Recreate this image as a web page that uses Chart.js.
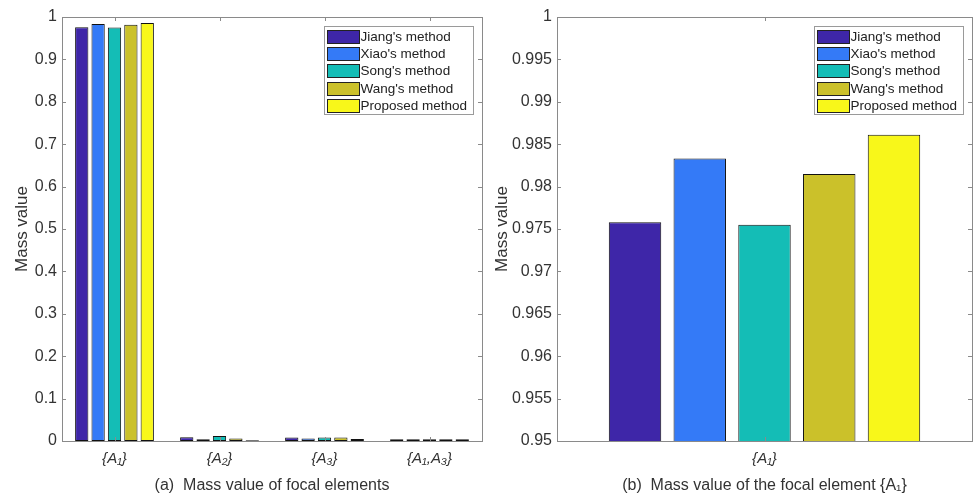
<!DOCTYPE html>
<html>
<head>
<meta charset="utf-8">
<script src="https://cdn.jsdelivr.net/npm/chart.js@4.4.1/dist/chart.umd.min.js"></script>
<style>
  html, body { margin: 0; padding: 0; background: #fff; }
  .wrap { position: relative; width: 978px; height: 499px; }
  #leftBox { position: absolute; left: 0; top: 0; width: 490px; height: 499px; }
  #rightBox { position: absolute; left: 490px; top: 0; width: 488px; height: 499px; }
</style>
</head>
<body>
<div class="wrap">
  <div id="leftBox"><canvas id="chartA"></canvas></div>
  <div id="rightBox"><canvas id="chartB"></canvas></div>
</div>
<script>
// data
const methods = ["Jiang's method", "Xiao's method", "Song's method", "Wang's method", "Proposed method"];
const colors = ['#3E26A8', '#347AF7', '#14BDB6', '#CBC12A', '#F8F71A'];

const elements = ['{A\u2081}', '{A\u2082}', '{A\u2083}', '{A\u2081,A\u2083}'];
const jiang    = [0.9758, 0.009, 0.008, 0.004];
const xiao     = [0.9833, 0.004, 0.006, 0.004];
const song     = [0.9755, 0.012, 0.008, 0.004];
const wang     = [0.9815, 0.006, 0.008, 0.004];
const proposed = [0.9861, 0.002, 0.005, 0.004];

const ticksA = [0, 0.1, 0.2, 0.3, 0.4, 0.5, 0.6, 0.7, 0.8, 0.9, 1];
const ticksB = [0.95, 0.955, 0.96, 0.965, 0.97, 0.975, 0.98, 0.985, 0.99, 0.995, 1];

const series = [jiang, xiao, song, wang, proposed];

const axisColor = '#8a8a8a';
const textColor = '#333333';
const fontFam = '"Liberation Sans", Arial, sans-serif';

// box + inward ticks + legend inside the plot
const matlabAxes = {
    id: 'matlabAxes',
    afterDraw(chart) {
        const { ctx, chartArea: { left, top, right, bottom }, scales } = chart;
        ctx.save();
        ctx.strokeStyle = axisColor;
        ctx.lineWidth = 1;
        ctx.strokeRect(Math.round(left) + 0.5, Math.round(top) + 0.5, Math.round(right - left), Math.round(bottom - top));

        // y ticks, inward, both sides
        scales.y.ticks.forEach(t => {
            const y = Math.round(scales.y.getPixelForValue(t.value)) + 0.5;
            ctx.beginPath();
            ctx.moveTo(left, y); ctx.lineTo(left + 4, y);
            ctx.moveTo(right, y); ctx.lineTo(right - 4, y);
            ctx.stroke();
        });
        // x ticks at category centers, inward top and bottom
        chart.data.labels.forEach((l, i) => {
            const x = Math.round(scales.x.getPixelForValue(i)) + 0.5;
            ctx.beginPath();
            ctx.moveTo(x, bottom); ctx.lineTo(x, bottom - 4);
            ctx.moveTo(x, top); ctx.lineTo(x, top + 4);
            ctx.stroke();
        });

        // legend
        const lw = 149, lh = 88;
        const lx = Math.round(right) - 9 - lw + 0.5;
        const ly = Math.round(top) + 9.5;
        ctx.fillStyle = '#fff';
        ctx.fillRect(lx, ly, lw, lh);
        ctx.strokeStyle = '#9a9a9a';
        ctx.strokeRect(lx, ly, lw, lh);
        ctx.font = '13.5px ' + fontFam;
        ctx.textBaseline = 'middle';
        chart.data.datasets.forEach((ds, i) => {
            const ry = Math.round(ly + 3 + i * 17.4) + 0.5;
            ctx.fillStyle = ds.backgroundColor;
            ctx.fillRect(lx + 3, ry, 32, 13);
            ctx.strokeStyle = '#222';
            ctx.strokeRect(lx + 3, ry, 32, 13);
            ctx.fillStyle = '#222';
            ctx.fillText(ds.label, lx + 36, ry + 7);
        });
        ctx.restore();
    }
};

function makeDatasets(idx) {
    return methods.map((m, i) => ({
        label: m,
        data: idx.map(k => series[i][k]),
        backgroundColor: colors[i],
        borderColor: '#111',
        borderWidth: 1,
        borderSkipped: false,
        categoryPercentage: 0.78,
        barPercentage: 0.81
    }));
}

function makeOptions(min, max, tickList, title, yWidth, rightPad, titlePad) {
    return {
        responsive: true,
        maintainAspectRatio: false,
        animation: false,
        layout: { padding: { top: 17, right: rightPad, left: 0, bottom: 0 } },
        plugins: { legend: { display: false }, tooltip: { enabled: false } },
        scales: {
            x: {
                grid: { display: false, drawTicks: false },
                border: { display: false },
                ticks: { color: textColor, font: { family: fontFam, size: 15, style: 'italic' }, padding: 9 },
                title: { display: true, text: title, color: textColor, font: { family: fontFam, size: 16 }, padding: { top: 1 } },
                afterFit(scale) { scale.height = 58; }
            },
            y: {
                min: min, max: max,
                afterBuildTicks(scale) { scale.ticks = tickList.map(v => ({ value: v })); },
                grid: { display: false, drawTicks: false },
                border: { display: false },
                ticks: {
                    color: textColor, font: { family: fontFam, size: 16 }, padding: 5,
                    callback: v => String(+v.toFixed(3))
                },
                title: { display: true, text: 'Mass value', color: textColor, font: { family: fontFam, size: 17 }, padding: { top: titlePad, bottom: 0 } },
                afterFit(scale) { scale.width = yWidth; }
            }
        }
    };
}

new Chart(document.getElementById('chartA'), {
    type: 'bar',
    data: { labels: elements, datasets: makeDatasets([0, 1, 2, 3]) },
    options: makeOptions(0, 1, ticksA, '(a)  Mass value of focal elements', 62, 8, 12),
    plugins: [matlabAxes]
});

new Chart(document.getElementById('chartB'), {
    type: 'bar',
    data: { labels: [elements[0]], datasets: makeDatasets([0]) },
    options: makeOptions(0.95, 1, ticksB, '(b)  Mass value of the focal element {A\u2081}', 67, 6, 2),
    plugins: [matlabAxes]
});
</script>
</body>
</html>
